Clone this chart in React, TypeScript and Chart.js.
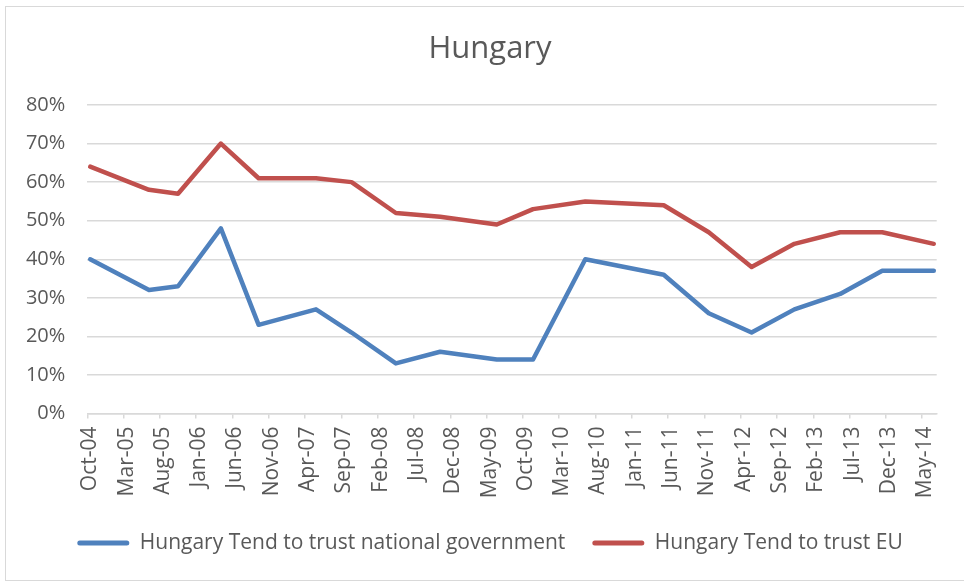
import React, { useEffect, useRef } from 'react';
import { Chart, registerables } from 'chart.js';

Chart.register(...registerables);

const TITLE = 'Hungary';

// tick labels every 5 months starting Oct-04
const tickLabels = [
  'Oct-04', 'Mar-05', 'Aug-05', 'Jan-06', 'Jun-06', 'Nov-06', 'Apr-07', 'Sep-07',
  'Feb-08', 'Jul-08', 'Dec-08', 'May-09', 'Oct-09', 'Mar-10', 'Aug-10', 'Jan-11',
  'Jun-11', 'Nov-11', 'Apr-12', 'Sep-12', 'Feb-13', 'Jul-13', 'Dec-13', 'May-14',
];

// survey dates, in months since Oct 2004
const surveyMonths = [0.4, 8.5, 12.5, 18.4, 23.6, 31.5, 36.4, 42.5, 48.6, 56.4, 61.4, 68.6, 79.4, 85.6, 91.5, 97.4, 103.7, 109.5, 116.6];

const trustGovernment = [40, 32, 33, 48, 23, 27, 21, 13, 16, 14, 14, 40, 36, 26, 21, 27, 31, 37, 37];
const trustEU = [64, 58, 57, 70, 61, 61, 60, 52, 51, 49, 53, 55, 54, 47, 38, 44, 47, 47, 44];

const seriesNames = ['Hungary Tend to trust national government', 'Hungary Tend to trust EU'];
const seriesColors = ['#4f81bd', '#c0504d'];

const yTicks = [0, 10, 20, 30, 40, 50, 60, 70, 80];

export default function App() {
  const ref = useRef<HTMLCanvasElement | null>(null);

  useEffect(() => {
    if (!ref.current) return;
    const seriesValues = [trustGovernment, trustEU];
    const chart = new Chart(ref.current, {
      type: 'line',
      data: {
        datasets: seriesValues.map((vals, si) => ({
          label: seriesNames[si],
          data: surveyMonths.map((m, i) => ({ x: m, y: vals[i] })),
          borderColor: seriesColors[si],
          backgroundColor: seriesColors[si],
          borderWidth: 4.5,
          pointRadius: 0,
          pointHoverRadius: 0,
          borderCapStyle: 'round',
          borderJoinStyle: 'round',
          tension: 0,
          fill: false,
          yAxisID: 'y',
        })),
      },
      options: {
        responsive: false,
        animation: false,
        devicePixelRatio: 1,
        layout: { padding: { left: 16, right: 0, top: 10, bottom: 18.5 } },
        scales: {
          x: {
            type: 'linear',
            min: 0,
            max: 117,
            afterBuildTicks: (s: any) => {
              s.ticks = tickLabels.map((_, i) => ({ value: i * 5 }));
            },
            afterFit: (s: any) => {
              s.height = 92;
            },
            ticks: {
              autoSkip: false,
              minRotation: 90,
              maxRotation: 90,
              padding: 8,
              labelOffset: 3,
              color: '#595959',
              font: { family: 'Open Sans', size: 21 },
              callback: (v: any) => tickLabels[Math.round(Number(v) / 5)],
            },
            grid: {
              drawOnChartArea: false,
              drawTicks: true,
              tickLength: 5,
              color: '#d9d9d9',
              lineWidth: 1.5,
            },
            border: { color: '#d9d9d9', width: 1.5 },
          },
          y: {
            min: 0,
            max: 80,
            afterBuildTicks: (s: any) => {
              s.ticks = yTicks.map((v) => ({ value: v }));
            },
            afterFit: (s: any) => {
              s.width = 71.3;
            },
            ticks: {
              padding: 22,
              color: '#595959',
              font: { family: 'Open Sans', size: 20 },
              callback: (v: any) => `${v}%`,
            },
            grid: { color: '#d9d9d9', lineWidth: 1.5, drawTicks: false },
            border: { display: false },
          },
          // empty spacer on the right so the plot ends where the reference's does
          spacer: {
            type: 'linear',
            position: 'right',
            display: true,
            grid: { display: false, drawTicks: false },
            border: { display: false },
            ticks: { display: false },
            afterFit: (s: any) => {
              s.width = 27.3;
            },
          },
        },
        plugins: {
          title: {
            display: true,
            text: TITLE,
            color: '#595959',
            font: { family: 'Open Sans', size: 31, weight: 'normal' },
            padding: { top: 20.4, bottom: 37.4 },
          },
          legend: {
            position: 'bottom',
            labels: {
              color: '#595959',
              font: { family: 'Open Sans', size: 21 },
              boxWidth: 52,
              boxHeight: 5,
              padding: 27,
              useBorderRadius: true,
              borderRadius: 2.5,
              generateLabels: (c: any) => {
                const items = (Chart as any).defaults.plugins.legend.labels.generateLabels(c);
                return items.map((it: any) => ({ ...it, fillStyle: it.strokeStyle, lineWidth: 0 }));
              },
            },
          },
          tooltip: { enabled: false },
        },
      } as any,
    });
    return () => chart.destroy();
  }, []);

  return (
    <div
      style={{
        position: 'fixed',
        left: 0,
        top: 0,
        width: 964,
        height: 582,
        overflow: 'hidden',
        background: '#ffffff',
      }}
    >
      <div
        style={{
          position: 'absolute',
          left: 5,
          top: 6,
          width: 980,
          height: 575,
          border: '1px solid #d9d9d9',
          boxSizing: 'border-box',
        }}
      />
      <canvas ref={ref} width={964} height={582} style={{ position: 'absolute', left: 0, top: 0 }} />
    </div>
  );
}
